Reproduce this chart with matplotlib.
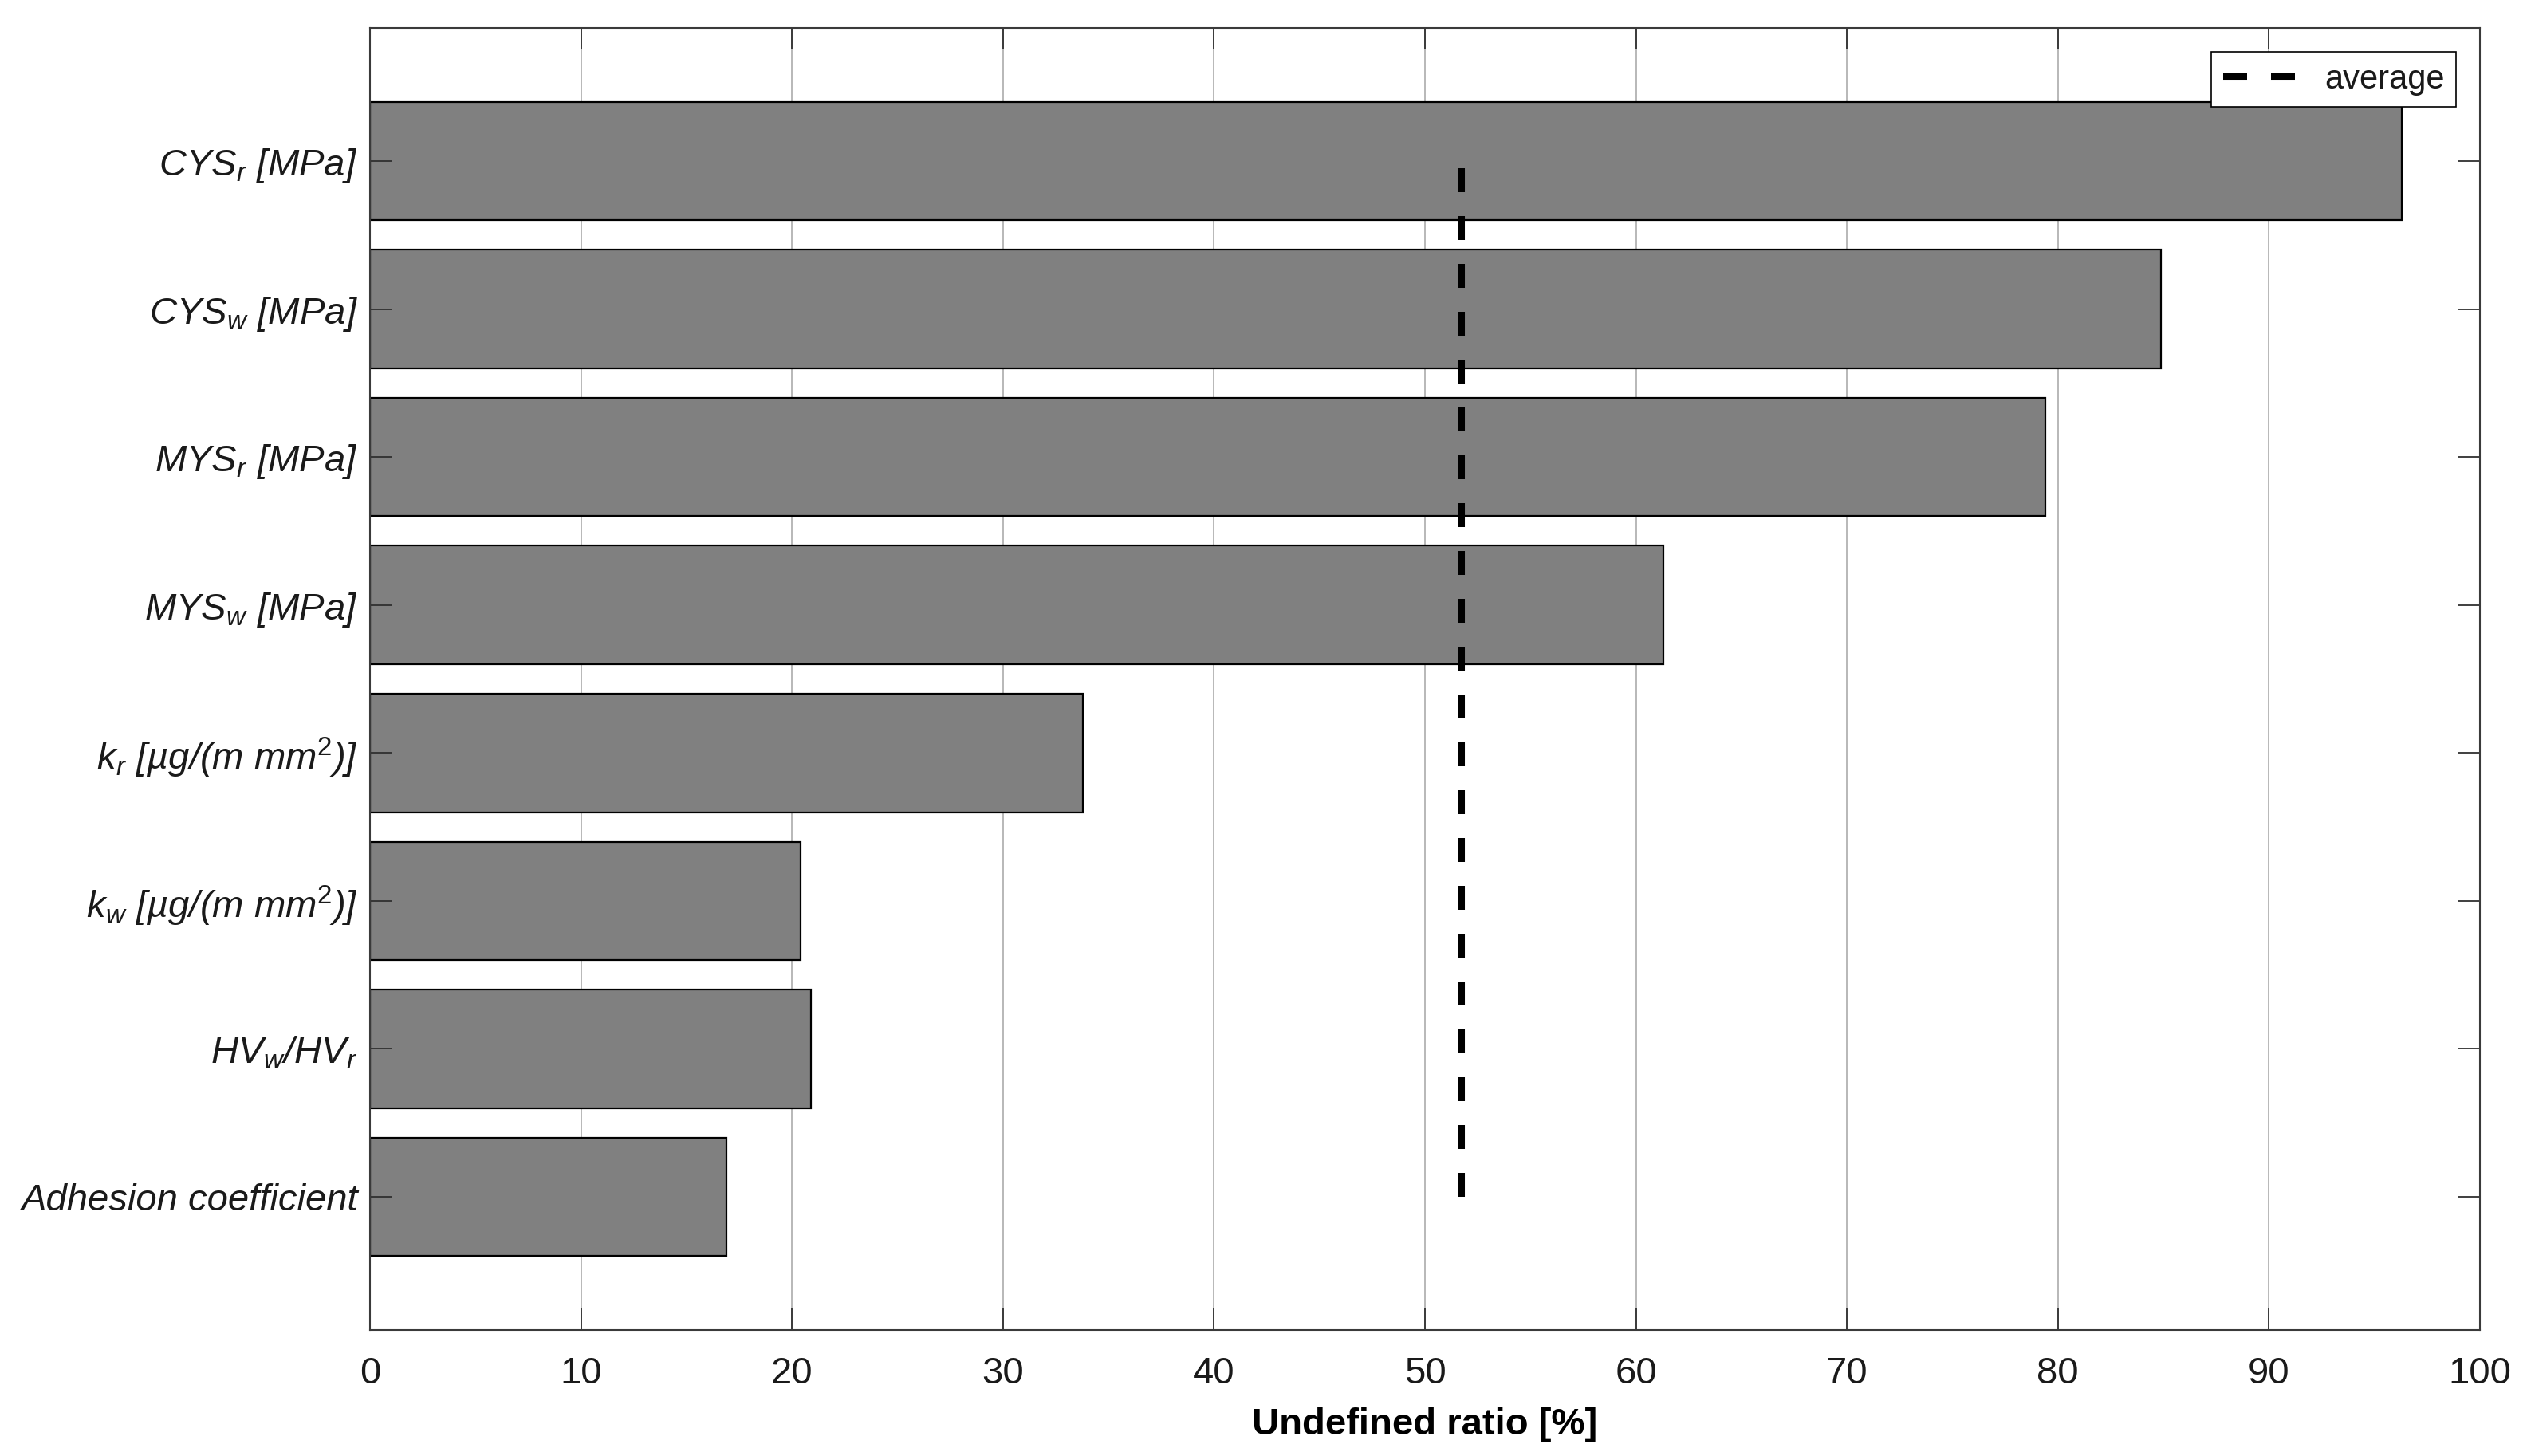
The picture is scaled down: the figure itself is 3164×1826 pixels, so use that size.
import matplotlib
matplotlib.use('Agg')
import matplotlib.pyplot as plt
import numpy as np

# ---- data ----
categories = [
    'CYS$_r$ [MPa]',
    'CYS$_w$ [MPa]',
    'MYS$_r$ [MPa]',
    'MYS$_w$ [MPa]',
    'k$_r$ [µg/(m mm$^2$)]',
    'k$_w$ [µg/(m mm$^2$)]',
    'HV$_w$/HV$_r$',
    'Adhesion coefficient',
]
values = [96.3, 84.9, 79.4, 61.3, 33.8, 20.4, 20.9, 16.9]
xticks = [0, 10, 20, 30, 40, 50, 60, 70, 80, 90, 100]
xlabel = 'Undefined ratio [%]'
legend_label = 'average'

plt.rcParams.update({
    'font.family': ['Liberation Sans', 'DejaVu Sans'],
    'mathtext.fontset': 'custom',
    'mathtext.rm': 'Liberation Sans',
    'mathtext.it': 'Liberation Sans:italic',
    'mathtext.bf': 'Liberation Sans:bold',
    'text.color': '#1a1a1a',
})

W, H = 3164, 1826
fig = plt.figure(figsize=(W / 100, H / 100), dpi=100)
rect = [464 / W, 1 - 1668 / H, (3110 - 464) / W, (1668 - 35) / H]
ax = fig.add_axes(rect)

pos = np.arange(1, len(categories) + 1)
ax.barh(pos, values, height=0.8, color='#808080', edgecolor='black',
        linewidth=1.6, zorder=2)
ax.set_xlim(0, 100)
ax.set_ylim(len(categories) + 0.9, 0.1)
ax.set_xticks(xticks)
ax.set_yticks(pos)
ax.set_yticklabels(categories)
for lab in ax.get_yticklabels():
    lab.set_fontstyle('italic')
ax.grid(axis='x', color='#b8b8b8', linewidth=1.4)
ax.grid(axis='y', visible=False)
ax.set_axisbelow(True)
ax.tick_params(axis='both', length=0, labelsize=34, labelcolor='#1a1a1a')
ax.tick_params(axis='x', pad=24)
ax.tick_params(axis='y', pad=11)
ax.set_xlabel(xlabel, fontsize=34, fontweight='bold', labelpad=14)
for s in ax.spines.values():
    s.set_visible(False)

# overlay for ticks, box, average line and legend
ov = fig.add_axes(rect, sharex=ax, sharey=ax, facecolor='none')
avg = float(np.mean(values))
lw = 5.8
dash = 21.6 / lw
ov.plot([avg, avg], [pos[-1], pos[0]], color='black', linewidth=lw,
        linestyle=(0, (dash, dash)), label=legend_label, zorder=3)
ov.grid(False)
ov.tick_params(axis='both', which='both', direction='in', length=19.5,
               width=1.3, color='#303030', top=True, right=True,
               labelleft=False, labelbottom=False, labeltop=False,
               labelright=False)
for s in ov.spines.values():
    s.set_color('#3a3a3a')
    s.set_linewidth(1.5)

leg = ov.legend(loc='upper right', fontsize=30, frameon=True, fancybox=False,
                framealpha=1, edgecolor='black', borderaxespad=0.72,
                handlelength=2.25, handletextpad=0.8, borderpad=0.35)
leg.get_frame().set_linewidth(1.2)

fig.savefig('out.png', dpi=100, facecolor='white')
